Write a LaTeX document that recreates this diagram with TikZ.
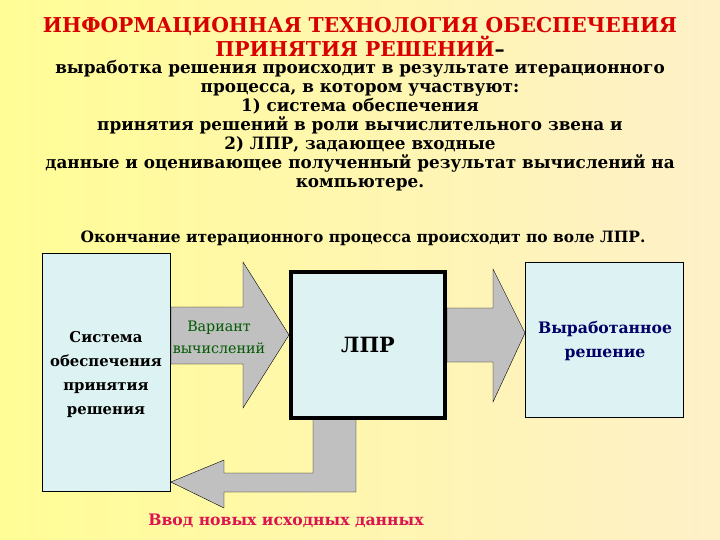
\documentclass[tikz,border=0pt]{standalone}
\usepackage{fontspec}
\setmainfont{DejaVu Serif Condensed}[FakeStretch=1.1]
\begin{document}
\begin{tikzpicture}[x=1pt,y=-1pt,
  box/.style={draw=black,fill=boxc,line width=0.8pt},
  arr/.style={draw=black,fill=arrc,line width=0.4pt},
  txt/.style={font=\bfseries\fontsize{17}{19}\selectfont,align=center,inner sep=0pt}]
\definecolor{boxc}{RGB}{221,243,243}
\definecolor{arrc}{RGB}{192,192,192}
\definecolor{bgA}{RGB}{255,253,150}
\definecolor{bgB}{RGB}{254,240,200}
\shade[left color=bgA,right color=bgB] (0,0) rectangle (720,540);
\useasboundingbox (0,0) rectangle (720,540);
\node[txt,font=\bfseries\fontsize{20.5}{19}\selectfont,text=red!85!black] (title) at (360,37) {ИНФОРМАЦИОННАЯ ТЕХНОЛОГИЯ ОБЕСПЕЧЕНИЯ\\ПРИНЯТИЯ РЕШЕНИЙ\textcolor{black}{–}};
\node[txt] (body) at (360,126) {выработка решения происходит в результате итерационного\\процесса, в котором участвуют:\\1) система обеспечения\\принятия решений в роли вычислительного звена и\\2) ЛПР, задающее входные\\данные и оценивающее полученный результат вычислений на\\компьютере.};
\node[txt,font=\bfseries\fontsize{15.6}{19}\selectfont] (end) at (363,238) {Окончание итерационного процесса происходит по воле ЛПР.};
\node[box,minimum width=128,minimum height=238,anchor=north west] (sys) at (42,253) {};
\node[box,line width=4pt,minimum width=154,minimum height=146,anchor=north west] (lpr) at (289,270) {};
\node[box,minimum width=158,minimum height=155,anchor=north west] (res) at (525,262) {};
\draw[arr] (sys.east |- 0,307) -- (243,307) -- (243,262) -- (lpr.west |- 0,335) -- (243,408) -- (243,364) -- (sys.east |- 0,364) -- cycle;
\draw[arr] (lpr.east |- 0,308) -- (493,308) -- (493,269) -- (res.west |- 0,333) -- (493,402) -- (493,362) -- (lpr.east |- 0,362) -- cycle;
\draw[arr] (313,420) -- (313,473) -- (224,473) -- (224,460) -- (sys.east |- 0,482) -- (224,508) -- (224,492) -- (356,492) -- (356,420);
\node[box,line width=4pt,fill=none,minimum width=154,minimum height=146,anchor=north west] at (289,270) {};
\node[txt,font=\fontsize{14.4}{22}\selectfont,text=green!35!black] (var) at (219,337) {Вариант\\вычислений};
\node[txt,font=\bfseries\fontsize{21}{24}\selectfont] (lt) at (lpr.center) {ЛПР};
\node[txt,font=\bfseries\fontsize{15}{24}\selectfont] (st) at (106,374) {Система\\обеспечения\\принятия\\решения};
\node[txt,font=\bfseries\fontsize{15.8}{24}\selectfont,text=blue!40!black] (rt) at (605,341) {Выработанное\\решение};
\node[txt,font=\bfseries\fontsize{15.8}{19}\selectfont,text={rgb,255:red,220;green,20;blue,80}] (inp) at (286,521) {Ввод новых исходных данных};
\end{tikzpicture}
\end{document}
